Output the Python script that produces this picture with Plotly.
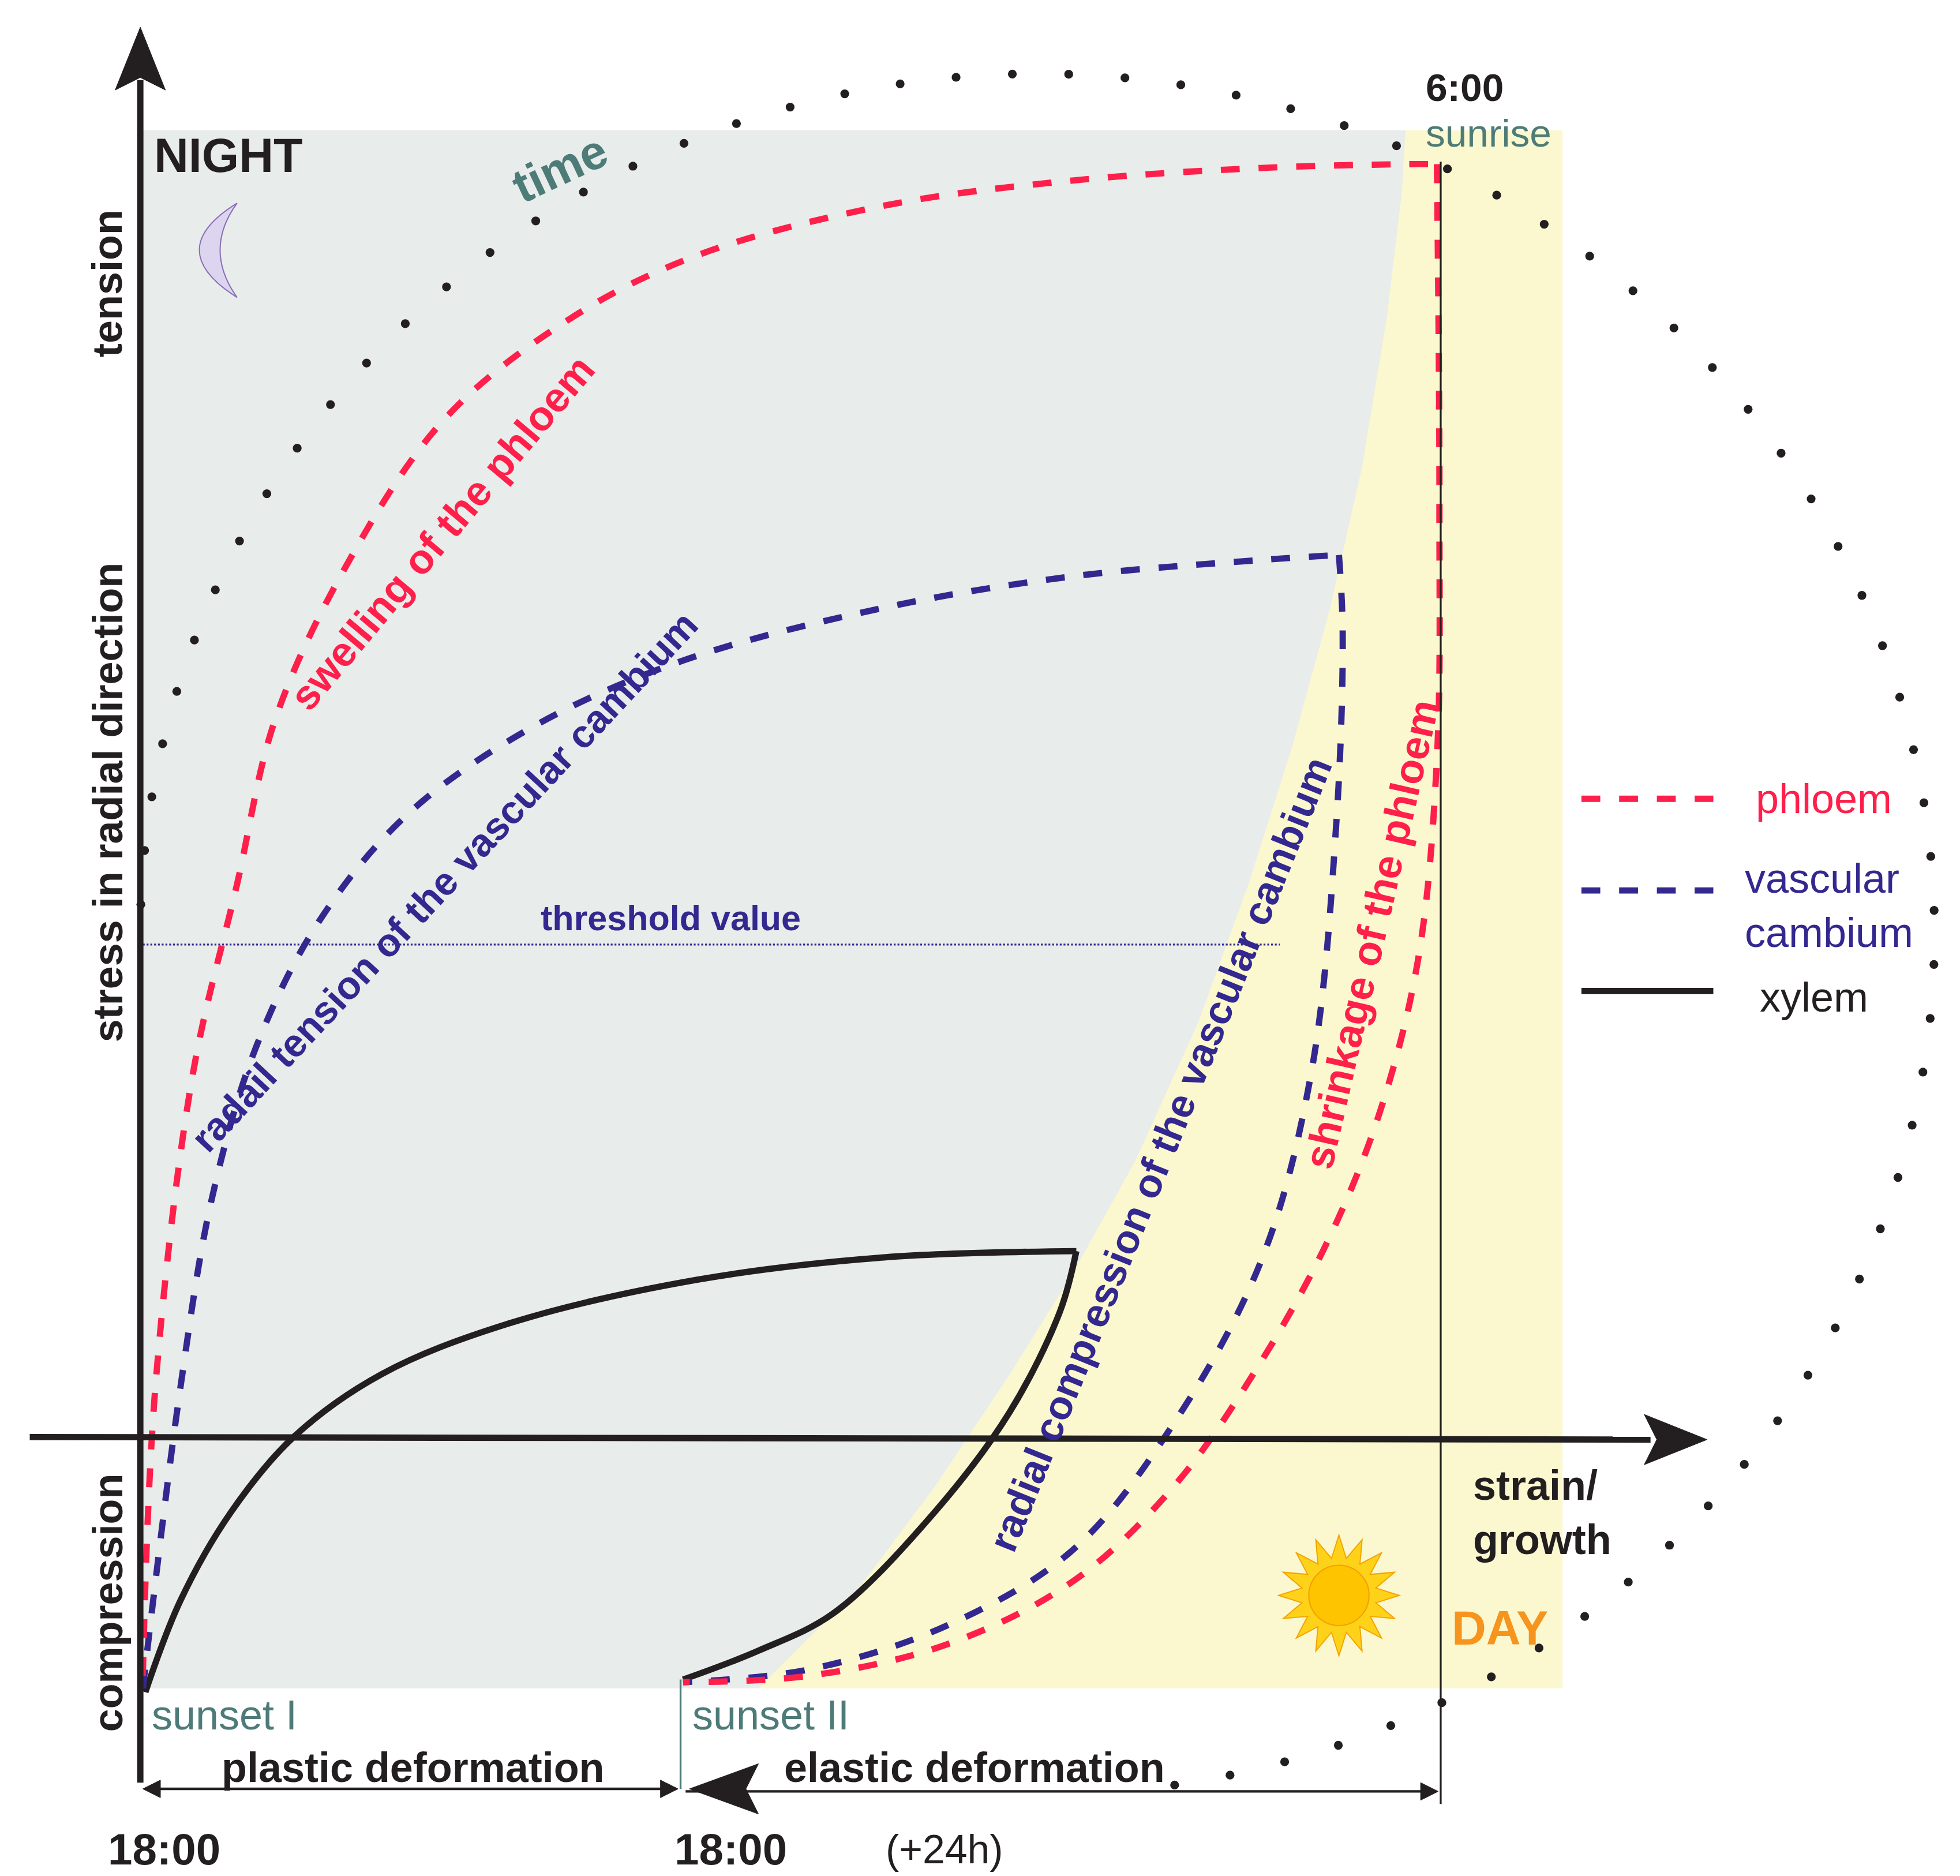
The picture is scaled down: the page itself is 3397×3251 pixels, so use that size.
import numpy as np
import plotly.graph_objects as go

# curves in picture units (x to the right, y downwards); each split at its corner
phloem_up_x = [110, 120, 150, 185, 215, 270, 350, 450, 550, 700, 850, 1000, 1115, 1140]
phloem_up_y = [1330, 1100, 850, 700, 570, 450, 330, 250, 200, 160, 140, 130, 127, 127]
phloem_dn_x = [1140, 1142, 1140, 1125, 1095, 1055, 1000, 930, 850, 750, 640, 540]
phloem_dn_y = [127, 400, 600, 760, 880, 980, 1080, 1180, 1255, 1305, 1330, 1335]
cambium_up_x = [110, 140, 165, 200, 250, 320, 420, 540, 700, 850, 1000, 1062]
cambium_up_y = [1340, 1100, 950, 830, 730, 645, 575, 522, 480, 455, 442, 438]
cambium_dn_x = [1062, 1065, 1060, 1040, 1000, 930, 850, 750, 640, 540]
cambium_dn_y = [438, 500, 650, 850, 1000, 1130, 1230, 1290, 1325, 1335]
xylem_up_x = [112, 140, 180, 230, 300, 400, 550, 700, 853]
xylem_up_y = [1343, 1270, 1200, 1140, 1090, 1050, 1015, 997, 992]
xylem_dn_x = [853, 840, 800, 740, 660, 600, 540]
xylem_dn_y = [992, 1040, 1120, 1200, 1280, 1310, 1333]

night_x = [108, 1115, 1112, 1100, 1080, 1055, 1025, 990, 950, 900, 850, 800, 740, 680, 630, 600, 108]
night_y = [100, 100, 150, 250, 370, 480, 590, 700, 810, 920, 1010, 1090, 1180, 1260, 1310, 1340, 1340]
day_x = [600, 1240, 1240, 600]
day_y = [1340, 1340, 100, 100]

RED, BLUE, BLK, TEAL = "#ff1f4b", "#33288f", "#231f20", "#4d7b78"
S = 2.18  # width scale
T = 2.18  # font scale

fig = go.Figure()
fig.add_trace(go.Scatter(x=day_x, y=day_y, fill="toself", fillcolor="#fbf8cf",
                         line=dict(width=0), mode="lines"))
fig.add_trace(go.Scatter(x=night_x, y=night_y, fill="toself", fillcolor="#e8ecea",
                         line=dict(width=0), mode="lines"))

# dotted time circle
ang = np.radians(np.arange(178, -82, -3.6))
cx, cy, rx, ry = 822, 740, 714, 685
fig.add_trace(go.Scatter(x=cx + rx * np.cos(ang), y=cy - ry * np.sin(ang), mode="markers",
                         marker=dict(size=7 * S, color=BLK)))

# threshold
fig.add_trace(go.Scatter(x=[110, 1015], y=[748, 748], mode="lines",
                         line=dict(color=BLUE, width=1.5 * S, dash="dot")))

def curve(x, y, color, dash):
    fig.add_trace(go.Scatter(x=x, y=y, mode="lines", line_shape="spline",
                             line=dict(color=color, width=5 * S, dash=dash)))

curve(xylem_up_x, xylem_up_y, BLK, "solid")
curve(xylem_dn_x, xylem_dn_y, BLK, "solid")
curve(cambium_up_x, cambium_up_y, BLUE, "dash")
curve(cambium_dn_x, cambium_dn_y, BLUE, "dash")
curve(phloem_up_x, phloem_up_y, RED, "dash")
curve(phloem_dn_x, phloem_dn_y, RED, "dash")

# axes
fig.add_trace(go.Scatter(x=[108, 108], y=[1415, 60], mode="lines", line=dict(color=BLK, width=5 * S)))
fig.add_trace(go.Scatter(x=[20, 1310], y=[1140, 1142], mode="lines", line=dict(color=BLK, width=5 * S)))
fig.add_trace(go.Scatter(x=[1143, 1143], y=[125, 1432], mode="lines", line=dict(color=BLK, width=1.5 * S)))
fig.add_trace(go.Scatter(x=[538, 538], y=[1333, 1420], mode="lines", line=dict(color=TEAL, width=1.5 * S)))
fig.add_trace(go.Scatter(x=[112, 534, None, 542, 1139], y=[1420, 1420, None, 1422, 1422],
                         mode="lines", line=dict(color=BLK, width=2 * S)))

# arrowheads
for p in ["M 108,18 L 128,68 L 108,58 L 88,68 Z",
          "M 1355,1142 L 1305,1122 L 1315,1142 L 1305,1162 Z",
          "M 545,1420 L 600,1400 L 590,1420 L 600,1440 Z",
          "M 110,1420 L 124,1413 L 124,1427 Z",
          "M 536,1420 L 522,1413 L 522,1427 Z",
          "M 1141,1422 L 1127,1415 L 1127,1429 Z"]:
    fig.add_shape(type="path", path=p, fillcolor=BLK, line=dict(color=BLK, width=1))

# legend samples
fig.add_trace(go.Scatter(x=[1255, 1360], y=[632, 632], mode="lines", line=dict(color=RED, width=5 * S, dash="dash")))
fig.add_trace(go.Scatter(x=[1255, 1360], y=[705, 705], mode="lines", line=dict(color=BLUE, width=5 * S, dash="dash")))
fig.add_trace(go.Scatter(x=[1255, 1360], y=[785, 785], mode="lines", line=dict(color=BLK, width=5 * S)))

# sun and moon
sx, sy = 1062, 1266
pts = []
for k in range(32):
    a = np.pi * k / 16
    rr = 48 if k % 2 == 0 else 30
    pts.append(f"{sx + rr * np.cos(a):.1f},{sy + rr * np.sin(a):.1f}")
fig.add_shape(type="path", path="M " + " L ".join(pts) + " Z",
              fillcolor="#ffd21a", line=dict(color="#f5a300", width=2))
fig.add_shape(type="circle", x0=sx - 24, x1=sx + 24, y0=sy - 24, y1=sy + 24,
              fillcolor="#ffc400", line=dict(color="#f0a000", width=2))
fig.add_shape(type="path", path="M 185,158 Q 125,195 185,233 Q 158,195 185,158 Z",
              fillcolor="#ddd5ef", line=dict(color="#8a6fb5", width=2))

F = "Arial, Liberation Sans"
def txt(x, y, s, size, color=BLK, angle=0, bold=True, anchor="center"):
    fig.add_annotation(x=x, y=y, text=f"<b>{s}</b>" if bold else s, showarrow=False,
                       textangle=angle, xanchor=anchor, align="left",
                       font=dict(family=F, size=size * T, color=color))

txt(178, 120, "NIGHT", 38)
txt(442, 130, "time", 38, TEAL, -25)
txt(82, 222, "tension", 33, angle=-90)
txt(82, 635, "stress in radial direction", 33, angle=-90)
txt(82, 1272, "compression", 33, angle=-90)
txt(348, 420, "swelling of the phloem", 33, RED, -50)
txt(350, 698, "radail tension of the vascular cambium", 31, BLUE, -47)
txt(920, 915, "radial compression of the vascular cambium", 32, BLUE, -68)
txt(1088, 740, "shrinkage of the phloem", 33, RED, -77)
txt(530, 727, "threshold value", 28, BLUE)
txt(1130, 66, "6:00", 31, anchor="left")
txt(1130, 102, "sunrise", 31, TEAL, bold=False, anchor="left")
txt(175, 1361, "sunset I", 33, TEAL, bold=False)
txt(610, 1361, "sunset II", 33, TEAL, bold=False)
txt(325, 1403, "plastic deformation", 33)
txt(772, 1403, "elastic deformation", 33)
txt(127, 1468, "18:00", 35)
txt(578, 1468, "18:00", 35)
txt(748, 1468, "(+24h)", 32, bold=False)
txt(1168, 1200, "strain/<br>growth", 33, anchor="left")
txt(1190, 1292, "DAY", 38, "#f7941d")
txt(1448, 632, "phloem", 33, RED, bold=False)
txt(1452, 717, "vascular<br>cambium", 33, BLUE, bold=False)
txt(1440, 790, "xylem", 33, bold=False)

fig.update_layout(width=3397, height=3251, margin=dict(l=0, r=0, t=0, b=0),
                  showlegend=False, plot_bgcolor="white", paper_bgcolor="white")
fig.update_xaxes(range=[0, 1560], visible=False)
fig.update_yaxes(range=[1493, 0], visible=False)
fig.write_html("out.html")
